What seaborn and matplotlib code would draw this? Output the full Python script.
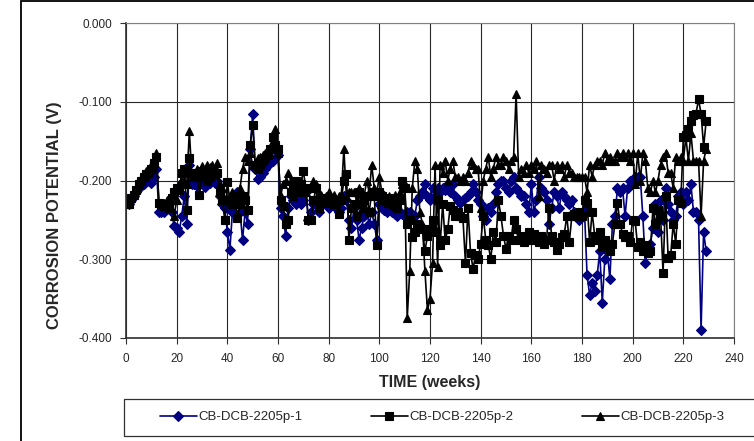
import matplotlib
matplotlib.use("Agg")
import matplotlib.pyplot as plt
from matplotlib.patches import Rectangle
import seaborn as sns
import pandas as pd

# weekly corrosion potential readings (V)
weeks = list(range(1, 230))

p1 = [-0.230, -0.225, -0.220, -0.215, -0.210, -0.207, -0.205, -0.200, -0.200, -0.203,
      -0.195, -0.185, -0.240, -0.240, -0.240, -0.235, -0.230, -0.240, -0.258, -0.260,
      -0.265, -0.245, -0.220, -0.255, -0.180, -0.205, -0.205, -0.207, -0.205, -0.203,
      -0.208, -0.205, -0.203, -0.200, -0.203, -0.200, -0.220, -0.230, -0.235, -0.265,
      -0.288, -0.240, -0.230, -0.215, -0.240, -0.275, -0.240, -0.255, -0.160, -0.115,
      -0.185, -0.198, -0.195, -0.190, -0.185, -0.180, -0.178, -0.175, -0.172, -0.168,
      -0.235, -0.245, -0.270, -0.235, -0.220, -0.225, -0.230, -0.220, -0.230, -0.225,
      -0.215, -0.250, -0.240, -0.230, -0.225, -0.240, -0.230, -0.225, -0.230, -0.235,
      -0.230, -0.225, -0.235, -0.240, -0.235, -0.220, -0.225, -0.250, -0.260, -0.235,
      -0.250, -0.275, -0.260, -0.245, -0.240, -0.255, -0.240, -0.255, -0.275, -0.230,
      -0.235, -0.238, -0.240, -0.235, -0.240, -0.242, -0.245, -0.240, -0.243, -0.245,
      -0.240, -0.240, -0.245, -0.245, -0.225, -0.220, -0.215, -0.205, -0.220, -0.225,
      -0.210, -0.220, -0.210, -0.215, -0.210, -0.212, -0.205, -0.215, -0.205, -0.220,
      -0.225, -0.228, -0.225, -0.222, -0.220, -0.215, -0.205, -0.215, -0.225, -0.230,
      -0.245, -0.250, -0.235, -0.240, -0.230, -0.215, -0.205, -0.200, -0.200, -0.210,
      -0.215, -0.200, -0.195, -0.210, -0.215, -0.220, -0.220, -0.230, -0.240, -0.205,
      -0.240, -0.225, -0.195, -0.210, -0.215, -0.225, -0.255, -0.235, -0.215, -0.220,
      -0.235, -0.215, -0.220, -0.225, -0.230, -0.225, -0.240, -0.245, -0.250, -0.245,
      -0.240, -0.320, -0.345, -0.330, -0.340, -0.320, -0.290, -0.355, -0.300, -0.290,
      -0.325, -0.255, -0.245, -0.210, -0.215, -0.210, -0.245, -0.210, -0.200, -0.200,
      -0.195, -0.195, -0.195, -0.245, -0.305, -0.285, -0.280, -0.260, -0.230, -0.265,
      -0.225, -0.250, -0.210, -0.230, -0.240, -0.250, -0.245, -0.220, -0.215, -0.230,
      -0.215, -0.225, -0.205, -0.240, -0.240, -0.250, -0.390, -0.265, -0.290]

p2 = [-0.230, -0.222, -0.218, -0.212, -0.205, -0.200, -0.195, -0.192, -0.190, -0.185,
      -0.178, -0.170, -0.228, -0.230, -0.232, -0.230, -0.235, -0.222, -0.215, -0.210,
      -0.212, -0.190, -0.185, -0.238, -0.172, -0.190, -0.195, -0.190, -0.218, -0.195,
      -0.192, -0.200, -0.195, -0.192, -0.190, -0.190, -0.215, -0.225, -0.250, -0.202,
      -0.225, -0.230, -0.220, -0.248, -0.230, -0.220, -0.225, -0.238, -0.155, -0.130,
      -0.180, -0.185, -0.180, -0.175, -0.172, -0.168, -0.160, -0.145, -0.155, -0.160,
      -0.225, -0.232, -0.255, -0.250, -0.215, -0.210, -0.200, -0.215, -0.205, -0.188,
      -0.210, -0.250, -0.250, -0.225, -0.210, -0.235, -0.228, -0.225, -0.222, -0.228,
      -0.225, -0.230, -0.228, -0.242, -0.225, -0.200, -0.192, -0.276, -0.235, -0.230,
      -0.245, -0.215, -0.230, -0.225, -0.220, -0.240, -0.215, -0.220, -0.282, -0.215,
      -0.220, -0.225, -0.228, -0.222, -0.230, -0.232, -0.235, -0.225, -0.200, -0.210,
      -0.255, -0.250, -0.272, -0.265, -0.255, -0.260, -0.262, -0.290, -0.270, -0.262,
      -0.250, -0.265, -0.225, -0.282, -0.230, -0.276, -0.262, -0.232, -0.238, -0.245,
      -0.240, -0.245, -0.248, -0.305, -0.235, -0.292, -0.312, -0.295, -0.300, -0.280,
      -0.245, -0.275, -0.282, -0.300, -0.265, -0.278, -0.225, -0.245, -0.270, -0.287,
      -0.270, -0.275, -0.250, -0.262, -0.276, -0.270, -0.278, -0.272, -0.265, -0.275,
      -0.268, -0.272, -0.278, -0.270, -0.280, -0.275, -0.235, -0.270, -0.278, -0.288,
      -0.280, -0.272, -0.268, -0.245, -0.278, -0.245, -0.242, -0.245, -0.240, -0.245,
      -0.225, -0.228, -0.278, -0.240, -0.270, -0.275, -0.265, -0.285, -0.275, -0.280,
      -0.290, -0.280, -0.255, -0.228, -0.255, -0.268, -0.272, -0.270, -0.278, -0.250,
      -0.252, -0.285, -0.278, -0.290, -0.282, -0.292, -0.290, -0.235, -0.255, -0.238,
      -0.245, -0.317, -0.220, -0.298, -0.295, -0.255, -0.280, -0.225, -0.228, -0.145,
      -0.142, -0.135, -0.125, -0.117, -0.115, -0.097, -0.115, -0.157, -0.125]

p3 = [-0.230, -0.222, -0.215, -0.210, -0.203, -0.197, -0.192, -0.188, -0.185, -0.180,
      -0.175, -0.165, -0.228, -0.230, -0.228, -0.225, -0.230, -0.222, -0.245, -0.225,
      -0.205, -0.200, -0.200, -0.205, -0.137, -0.195, -0.190, -0.185, -0.188, -0.182,
      -0.185, -0.180, -0.183, -0.180, -0.185, -0.178, -0.205, -0.210, -0.225, -0.225,
      -0.220, -0.215, -0.220, -0.225, -0.210, -0.185, -0.170, -0.175, -0.165, -0.180,
      -0.178, -0.172, -0.170, -0.168, -0.165, -0.162, -0.160, -0.150, -0.135, -0.165,
      -0.220, -0.205, -0.200, -0.190, -0.200, -0.220, -0.205, -0.200, -0.200, -0.205,
      -0.215, -0.210, -0.210, -0.200, -0.205, -0.220, -0.218, -0.225, -0.220, -0.215,
      -0.222, -0.218, -0.225, -0.220, -0.218, -0.160, -0.220, -0.215, -0.215, -0.215,
      -0.225, -0.210, -0.235, -0.220, -0.200, -0.215, -0.180, -0.210, -0.215, -0.195,
      -0.215, -0.218, -0.222, -0.220, -0.225, -0.218, -0.222, -0.215, -0.205, -0.205,
      -0.375, -0.315, -0.210, -0.175, -0.185, -0.240, -0.255, -0.315, -0.365, -0.350,
      -0.305, -0.180, -0.310, -0.180, -0.190, -0.175, -0.200, -0.185, -0.175, -0.195,
      -0.195, -0.200, -0.195, -0.200, -0.190, -0.175, -0.180, -0.185, -0.185, -0.235,
      -0.200, -0.185, -0.170, -0.195, -0.185, -0.170, -0.180, -0.180, -0.170, -0.175,
      -0.185, -0.175, -0.170, -0.090, -0.195, -0.185, -0.190, -0.180, -0.190, -0.180,
      -0.185, -0.175, -0.220, -0.180, -0.185, -0.190, -0.180, -0.180, -0.200, -0.180,
      -0.185, -0.180, -0.195, -0.180, -0.190, -0.190, -0.195, -0.195, -0.195, -0.195,
      -0.195, -0.215, -0.180, -0.195, -0.180, -0.175, -0.175, -0.180, -0.165, -0.175,
      -0.170, -0.175, -0.175, -0.165, -0.170, -0.165, -0.170, -0.165, -0.175, -0.165,
      -0.205, -0.165, -0.200, -0.165, -0.175, -0.210, -0.215, -0.200, -0.215, -0.200,
      -0.180, -0.170, -0.165, -0.190, -0.190, -0.210, -0.170, -0.175, -0.170, -0.175,
      -0.145, -0.175, -0.140, -0.175, -0.175, -0.175, -0.245, -0.175, -0.160]

labels = ['CB-DCB-2205p-1', 'CB-DCB-2205p-2', 'CB-DCB-2205p-3']
x_ticks = list(range(0, 241, 20))
y_ticks = [0.0, -0.1, -0.2, -0.3, -0.4]

sns.set_style('white')
plt.rcParams['font.family'] = ['Liberation Sans', 'DejaVu Sans']
plt.rcParams['axes.unicode_minus'] = False

fig = plt.figure(figsize=(7.54, 4.41), dpi=100)
ax = fig.add_axes([126 / 754, 1 - 338 / 441, 608 / 754, 315 / 441])

styles = [('#000080', 'D', 4.6), ('black', 's', 5.6), ('black', '^', 6.2)]
for vals, lab, (col, mk, ms) in zip([p1, p2, p3], labels, styles):
    df = pd.DataFrame({'week': weeks, 'v': vals})
    sns.lineplot(data=df, x='week', y='v', ax=ax, color=col, marker=mk,
                 markersize=ms, markeredgecolor=col, markerfacecolor=col,
                 markeredgewidth=0.8, linewidth=1.2, sort=False, label=lab)

ax.set_xlim(0, 240)
ax.set_ylim(-0.4, 0.0)
ax.set_xticks(x_ticks)
ax.set_yticks(y_ticks)
ax.set_yticklabels([f'{v:.3f}' for v in y_ticks])
ax.grid(True, color='#262626', linewidth=0.8)
ax.set_axisbelow(True)
ax.tick_params(axis='both', direction='out', length=4, width=0.8,
               color='#303030', labelsize=8.5)
ax.tick_params(axis='x', pad=7)
ax.tick_params(axis='y', pad=6)
ax.tick_params(left=True, bottom=True)
for side in ['left', 'bottom']:
    ax.spines[side].set_color('#303030')
    ax.spines[side].set_linewidth(1.2)
for side in ['top', 'right']:
    ax.spines[side].set_color('#808080')
    ax.spines[side].set_linewidth(0.8)

ax.set_xlabel('TIME (weeks)', fontsize=11.5, fontweight='bold')
ax.set_ylabel('CORROSION POTENTIAL (V)', fontsize=12, fontweight='bold')
ax.xaxis.set_label_coords(0.5, -0.118)
ax.yaxis.set_label_coords(-0.106, 0.39)

# legend entries without their own frame; the box is drawn separately
ax.legend(loc='lower left', ncol=3, mode='expand',
          bbox_to_anchor=(148 / 754, 1 - 435 / 441, 588 / 754, 37 / 441),
          bbox_transform=fig.transFigure, fontsize=9.5, frameon=False,
          handlelength=2.8, handletextpad=0.1, borderaxespad=0, borderpad=0.9)

fig.patches.append(Rectangle((124 / 754, 1 - 436 / 441), 1.0, 37 / 441,
                             transform=fig.transFigure, fill=False,
                             edgecolor='#303030', linewidth=0.9))

# outer chart frame (cut at the right and bottom edges)
fig.patches.append(Rectangle((21 / 754, -0.1), 1.2, 1.1 - 1.5 / 441,
                             transform=fig.transFigure, fill=False,
                             edgecolor='black', linewidth=1.3))

plt.savefig('out.png', dpi=100)
